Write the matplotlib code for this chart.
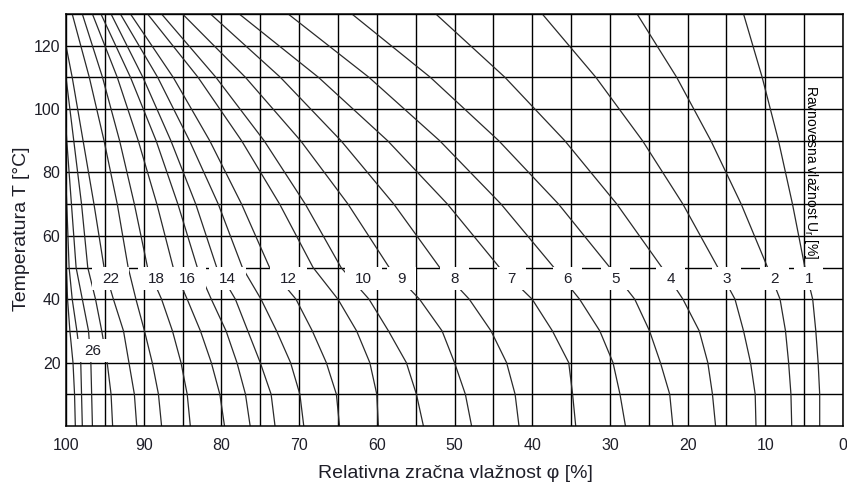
import matplotlib.pyplot as plt
from matplotlib.patches import Rectangle

plt.rcParams['font.family'] = ['Liberation Sans', 'DejaVu Sans']

temps = [0, 10, 20, 30, 40, 50, 70, 90, 110, 130]

# equilibrium moisture content of each curve [%]
emc = [1, 2, 3, 4, 5, 6, 7, 8, 9, 10, 11, 12, 13, 14, 15, 16, 18, 20, 22, 24, 26, 28, 30]

# relative humidity of each curve at the temperatures above [%]
rh_01 = [3.0, 3.0, 3.2, 3.5, 3.9, 4.9, 6.5, 8.3, 10.4, 12.8]
rh_02 = [6.6, 6.7, 7.0, 7.4, 8.1, 9.7, 13.1, 17.0, 21.4, 26.5]
rh_03 = [11.2, 11.3, 11.9, 12.8, 13.9, 16.1, 20.6, 25.8, 31.8, 38.7]
rh_04 = [16.4, 16.8, 17.4, 18.5, 20.6, 23.3, 29.1, 35.8, 43.5, 52.4]
rh_05 = [21.9, 22.3, 23.5, 24.9, 26.8, 30.0, 36.6, 44.3, 53.1, 63.2]
rh_06 = [28.0, 28.7, 29.6, 31.3, 33.9, 37.2, 44.0, 51.9, 61.0, 71.4]
rh_07 = [34.4, 34.8, 35.3, 37.4, 40.0, 44.2, 50.9, 58.6, 67.5, 77.7]
rh_08 = [41.7, 42.2, 43.3, 45.3, 48.1, 51.9, 57.8, 64.6, 72.4, 81.4]
rh_09 = [47.8, 48.6, 50.0, 51.6, 54.5, 58.4, 63.7, 69.8, 76.9, 85.0]
rh_10 = [54.0, 54.9, 56.2, 58.5, 61.0, 64.6, 69.2, 74.5, 80.7, 87.7]
rh_11 = [59.8, 60.0, 60.9, 62.6, 65.0, 68.2, 72.5, 77.4, 83.0, 89.5]
rh_12 = [64.8, 65.2, 66.5, 68.3, 70.4, 73.8, 77.4, 81.5, 86.2, 91.7]
rh_13 = [69.4, 69.9, 71.1, 72.9, 74.9, 77.3, 80.4, 84.1, 88.2, 93.0]
rh_14 = [73.1, 73.6, 75.0, 76.6, 78.2, 80.6, 83.3, 86.5, 90.1, 94.2]
rh_15 = [76.3, 76.9, 78.0, 79.4, 81.3, 83.1, 85.6, 88.4, 91.7, 95.5]
rh_16 = [79.6, 80.2, 81.3, 82.7, 84.4, 86.2, 88.3, 90.7, 93.4, 96.6]
rh_18 = [84.0, 84.4, 85.2, 86.3, 87.7, 89.5, 91.2, 93.1, 95.3, 97.9]
rh_20 = [87.7, 88.1, 88.9, 89.9, 91.0, 92.0, 93.4, 95.1, 97.0, 99.2]
rh_22 = [90.9, 91.2, 91.9, 92.6, 93.9, 95.1, 96.4, 97.8, 99.2]
rh_24 = [94.0, 94.2, 94.7, 95.4, 96.2, 97.2, 98.0, 99.0]
rh_26 = [96.6, 96.7, 96.8, 97.1, 97.9, 98.7, 99.3, 99.9]
rh_28 = [97.9, 98.0, 98.1, 98.6, 99.2, 99.6, 99.9]
rh_30 = [98.8, 98.9, 99.1, 99.5, 99.8, 99.95]

curves = [rh_01, rh_02, rh_03, rh_04, rh_05, rh_06, rh_07, rh_08, rh_09, rh_10,
          rh_11, rh_12, rh_13, rh_14, rh_15, rh_16, rh_18, rh_20, rh_22, rh_24,
          rh_26, rh_28, rh_30]

# temperature where a curve runs into the 100 % edge (None = reaches the top)
edge_t = [None] * 18 + [120, 110, 94, 76, 63]

# curve labels
label_text = ['26', '22', '18', '16', '14', '12', '10', '9', '8', '7', '6', '5', '4', '3', '2', '1']
label_rh = [96.6, 94.3, 88.4, 84.4, 79.25, 71.4, 61.75, 56.8, 50.0, 42.7, 35.4, 29.3, 22.2, 15.0, 8.8, 4.4]
label_t = [23.7] + [46.4] * 15

fig = plt.figure(figsize=(8.47, 4.83), dpi=100)
ax = fig.add_axes([66 / 847, 57 / 483, 777 / 847, 412 / 483])

ax.set_xlim(100, 0)
ax.set_ylim(0, 130)

# grid
for x in range(0, 101, 5):
    ax.axvline(x, color='black', lw=1.0, zorder=1)
for t in range(10, 131, 10):
    ax.axhline(t, color='black', lw=1.0, zorder=1)

# moisture curves
for rh, et in zip(curves, edge_t):
    xs = list(rh)
    ys = temps[:len(rh)]
    if et is not None:
        xs = xs + [100]
        ys = list(ys) + [et]
    ax.plot(xs, ys, color='#2a2a2a', lw=0.9, zorder=2)

# white label boxes that break the curves
for txt, x, t in zip(label_text, label_rh, label_t):
    hw = 2.38 if len(txt) > 1 else 1.87
    ax.add_patch(Rectangle((x - hw, t - 3.6), 2 * hw, 7.5, facecolor='white',
                           edgecolor='none', zorder=3))
    ax.text(x, t, txt, ha='center', va='center', fontsize=11, color='#1e1e28', zorder=4)

ax.text(4.1, 80, 'Ravnovesna vlažnost U$_\\mathregular{r}$ [%]', rotation=-90,
        ha='center', va='center', fontsize=10, color='black', zorder=5)

ax.set_xticks(range(0, 101, 10))
ax.set_yticks(range(20, 121, 20))
ax.tick_params(length=0, labelsize=11.5, colors='#1e1e28')
ax.tick_params(axis='x', pad=9)
ax.tick_params(axis='y', pad=4)
for s in ax.spines.values():
    s.set_linewidth(1.1)
    s.set_zorder(6)

fig.text(455 / 847, 1 / 483, 'Relativna zračna vlažnost φ [%]', ha='center',
         va='bottom', fontsize=14, color='#1e1e28')
fig.text(22 / 847, 1 - 229 / 483, 'Temperatura T [°C]', ha='center', va='center',
         rotation=90, fontsize=14, color='#1e1e28')

fig.savefig('out.png', dpi=100)
